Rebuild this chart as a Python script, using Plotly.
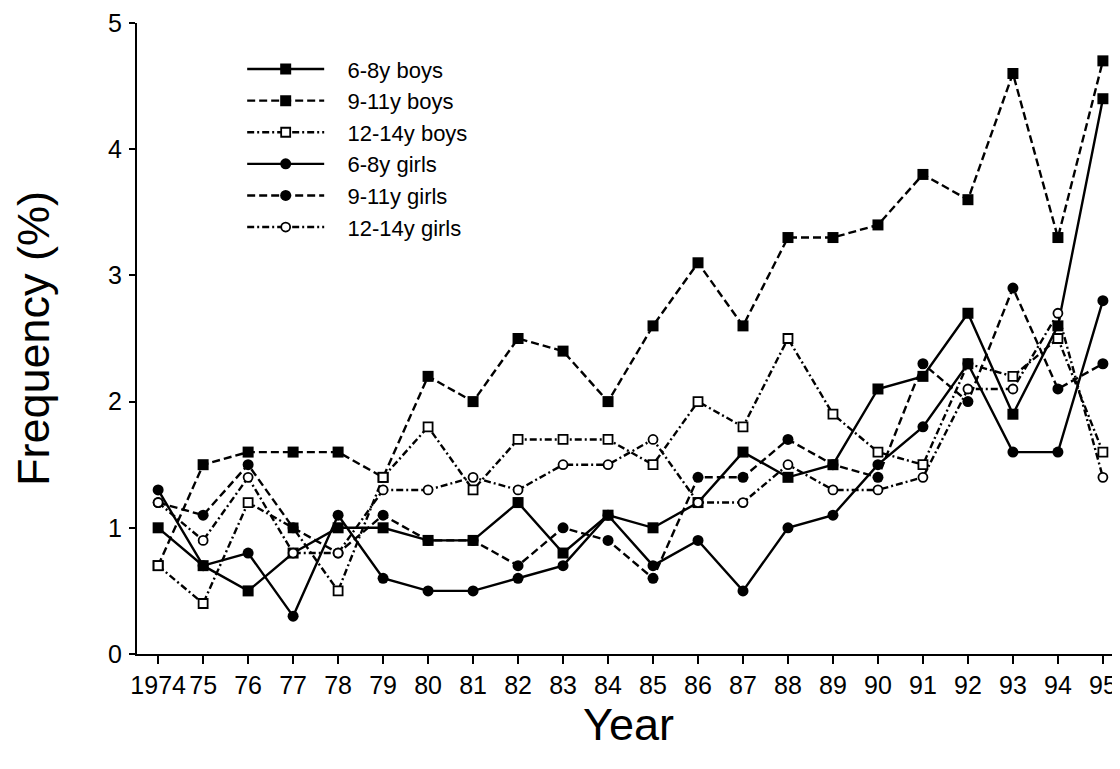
import plotly.graph_objects as go

years = list(range(1974, 1996))
tick_labels = ["1974"] + [str(y)[2:] for y in range(1975, 1996)]

boys_6_8 = [1.0, 0.7, 0.5, 0.8, 1.0, 1.0, 0.9, 0.9, 1.2, 0.8, 1.1, 1.0, 1.2, 1.6, 1.4, 1.5, 2.1, 2.2, 2.7, 1.9, 2.6, 4.4]
boys_9_11 = [0.7, 1.5, 1.6, 1.6, 1.6, 1.4, 2.2, 2.0, 2.5, 2.4, 2.0, 2.6, 3.1, 2.6, 3.3, 3.3, 3.4, 3.8, 3.6, 4.6, 3.3, 4.7]
boys_12_14 = [0.7, 0.4, 1.2, 1.0, 0.5, 1.4, 1.8, 1.3, 1.7, 1.7, 1.7, 1.5, 2.0, 1.8, 2.5, 1.9, 1.6, 1.5, 2.3, 2.2, 2.5, 1.6]
girls_6_8 = [1.3, 0.7, 0.8, 0.3, 1.1, 0.6, 0.5, 0.5, 0.6, 0.7, 1.1, 0.7, 0.9, 0.5, 1.0, 1.1, 1.5, 1.8, 2.3, 1.6, 1.6, 2.8]
girls_9_11 = [1.2, 1.1, 1.5, 1.0, 0.8, 1.1, 0.9, 0.9, 0.7, 1.0, 0.9, 0.6, 1.4, 1.4, 1.7, 1.5, 1.4, 2.3, 2.0, 2.9, 2.1, 2.3]
girls_12_14 = [1.2, 0.9, 1.4, 0.8, 0.8, 1.3, 1.3, 1.4, 1.3, 1.5, 1.5, 1.7, 1.2, 1.2, 1.5, 1.3, 1.3, 1.4, 2.1, 2.1, 2.7, 1.4]

series = [
    ("6-8y boys", boys_6_8, "solid", "square", True),
    ("9-11y boys", boys_9_11, "8px,4px", "square", True),
    ("12-14y boys", boys_12_14, "7px,3px,2px,3px", "square", False),
    ("6-8y girls", girls_6_8, "solid", "circle", True),
    ("9-11y girls", girls_9_11, "8px,4px", "circle", True),
    ("12-14y girls", girls_12_14, "7px,3px,2px,3px", "circle", False),
]

fig = go.Figure()
for name, vals, dash, sym, filled in series:
    fig.add_trace(go.Scatter(
        x=years, y=vals, name="   " + name, mode="lines+markers",
        line=dict(color="black", width=2.4, dash=dash),
        marker=dict(
            symbol=sym,
            size=11 if filled else 9,
            color="black" if filled else "white",
            line=dict(color="black", width=0 if filled else 1.8),
        ),
        cliponaxis=False,
    ))

font_family = "Liberation Sans, Arial, Helvetica, sans-serif"
# The page adds an 8px body margin, so the figure is sized 8px smaller.
fig.update_layout(
    width=1112, height=761,
    paper_bgcolor="white", plot_bgcolor="white",
    margin=dict(l=129, r=0, t=15, b=115),
    font=dict(family=font_family, color="black", size=24),
    showlegend=True,
    legend=dict(
        x=0.107, y=0.960, xanchor="left", yanchor="top",
        bgcolor="rgba(0,0,0,0)", borderwidth=0,
        font=dict(size=22, family=font_family, color="black"),
        itemwidth=77,
    ),
    xaxis=dict(
        range=[1973.53, 1995.38],
        tickmode="array", tickvals=years, ticktext=tick_labels,
        showline=True, linecolor="black", linewidth=2,
        ticks="outside", ticklen=8, tickwidth=2, tickcolor="black",
        showgrid=False, zeroline=False, automargin=False,
        ticklabeloverflow="allow",
        tickfont=dict(size=25),
        title=dict(text="Year", font=dict(size=45), standoff=8),
    ),
    yaxis=dict(
        range=[0, 5],
        tickmode="array", tickvals=[0, 1, 2, 3, 4, 5],
        showline=True, linecolor="black", linewidth=2,
        ticks="outside", ticklen=6, tickwidth=2, tickcolor="black",
        showgrid=False, zeroline=False, automargin=False,
        ticklabeloverflow="allow",
        ticklabelstandoff=2,
        tickfont=dict(size=25),
        title=dict(text="Frequency (%)", font=dict(size=45), standoff=44),
    ),
)

fig.write_html("out.html")
